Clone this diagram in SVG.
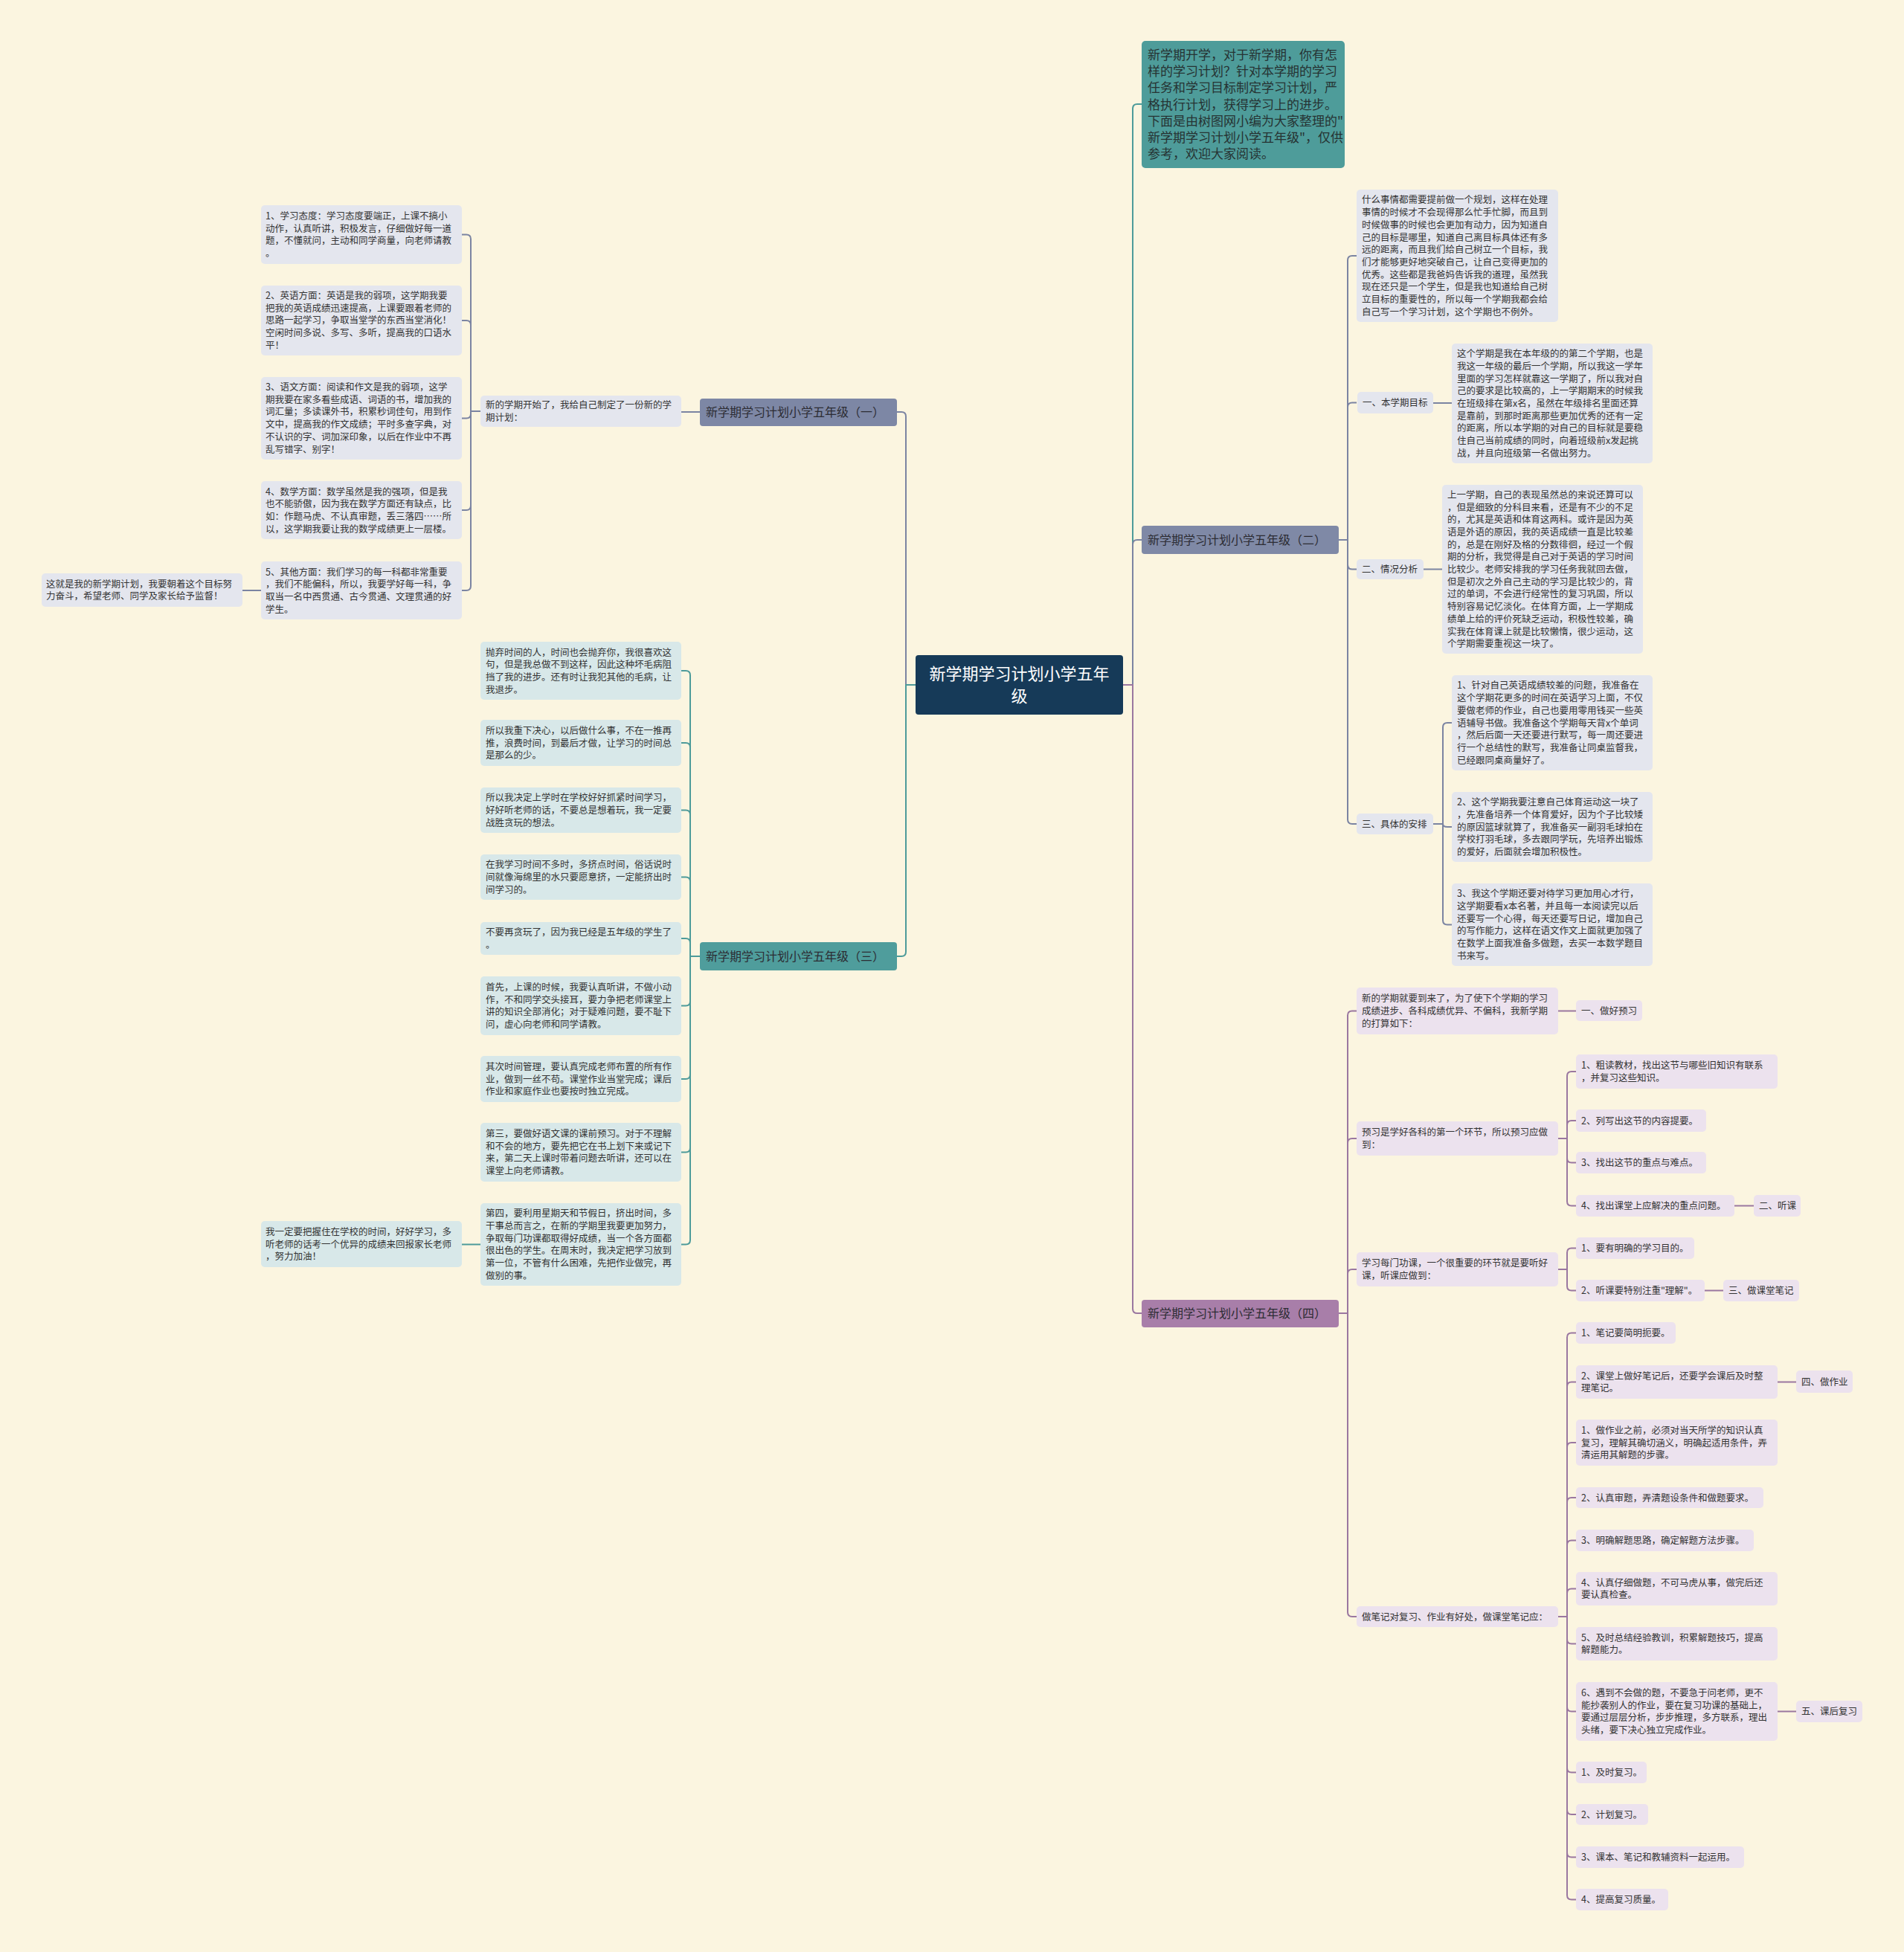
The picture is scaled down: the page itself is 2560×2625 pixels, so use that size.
<svg xmlns="http://www.w3.org/2000/svg" width="2560" height="2625" viewBox="0 0 2560 2625">
<style>
text{font-family:"Noto Sans CJK SC","Noto Sans",sans-serif;}
.s{font-size:12.5px;fill:#333;}
.b{font-size:16px;fill:#2c2c33;}
.n1{fill:#e4e6ee;}
.n3{fill:#d8e8e9;}
.n4{fill:#ece2ee;}
.c{fill:none;stroke-width:2;}
.c1{stroke:#7b84a2;}
.c3{stroke:#4d9b9a;}
.c4{stroke:#9a77a0;}
</style>
<rect width="2560" height="2625" fill="#fbf5e0"/>
<g id="connectors">
<path class="c c3" d="M1510 921H1523V146Q1523 140 1529 140H1535"/>
<path class="c c1" d="M1510 921H1523V732Q1523 726 1529 726H1535"/>
<path class="c c4" d="M1510 921H1523V1760Q1523 1766 1529 1766H1535"/>
<path class="c c1" d="M1231 921H1218V560Q1218 554 1212 554H1206"/>
<path class="c c3" d="M1231 921H1218V1280Q1218 1286 1212 1286H1206"/>
<path class="c c1" d="M941 554H916"/>
<path class="c c1" d="M646 553H633V321.5Q633 315.5 627 315.5H621"/>
<path class="c c1" d="M646 553H633V437Q633 431 627 431H621"/>
<path class="c c1" d="M646 553H633V556.5Q633 562.5 627 562.5H621"/>
<path class="c c1" d="M646 553H633V680Q633 686 627 686H621"/>
<path class="c c1" d="M646 553H633V788Q633 794 627 794H621"/>
<path class="c c1" d="M351 794H326"/>
<path class="c c3" d="M941 1286H928V908Q928 902 922 902H916"/>
<path class="c c3" d="M941 1286H928V1005Q928 999 922 999H916"/>
<path class="c c3" d="M941 1286H928V1095.5Q928 1089.5 922 1089.5H916"/>
<path class="c c3" d="M941 1286H928V1185.5Q928 1179.5 922 1179.5H916"/>
<path class="c c3" d="M941 1286H928V1268Q928 1262 922 1262H916"/>
<path class="c c3" d="M941 1286H928V1346.5Q928 1352.5 922 1352.5H916"/>
<path class="c c3" d="M941 1286H928V1445Q928 1451 922 1451H916"/>
<path class="c c3" d="M941 1286H928V1543.5Q928 1549.5 922 1549.5H916"/>
<path class="c c3" d="M941 1286H928V1667.5Q928 1673.5 922 1673.5H916"/>
<path class="c c3" d="M646 1673.5H621"/>
<path class="c c1" d="M1800 726H1812V350Q1812 344 1818 344H1824"/>
<path class="c c1" d="M1800 726H1812V547.5Q1812 541.5 1818 541.5H1824"/>
<path class="c c1" d="M1800 726H1812V759.5Q1812 765.5 1818 765.5H1824"/>
<path class="c c1" d="M1800 726H1812V1102Q1812 1108 1818 1108H1824"/>
<path class="c c1" d="M1927 542H1952"/>
<path class="c c1" d="M1914 765.5H1939"/>
<path class="c c1" d="M1927 1108H1940V978Q1940 972 1946 972H1952"/>
<path class="c c1" d="M1927 1108H1940Q1940 1112 1946 1112H1952"/>
<path class="c c1" d="M1927 1108H1940V1237.5Q1940 1243.5 1946 1243.5H1952"/>
<path class="c c4" d="M1800 1766H1812V1365.5Q1812 1359.5 1818 1359.5H1824"/>
<path class="c c4" d="M1800 1766H1812V1537Q1812 1531 1818 1531H1824"/>
<path class="c c4" d="M1800 1766H1812V1713Q1812 1707 1818 1707H1824"/>
<path class="c c4" d="M1800 1766H1812V2168Q1812 2174 1818 2174H1824"/>
<path class="c c4" d="M2095 1359.5H2119"/>
<path class="c c4" d="M2095 1531H2107V1447Q2107 1441 2113 1441H2119"/>
<path class="c c4" d="M2095 1531H2107V1513Q2107 1507 2113 1507H2119"/>
<path class="c c4" d="M2095 1531H2107V1557.5Q2107 1563.5 2113 1563.5H2119"/>
<path class="c c4" d="M2095 1531H2107V1615.5Q2107 1621.5 2113 1621.5H2119"/>
<path class="c c4" d="M2332 1621.5H2358"/>
<path class="c c4" d="M2095 1707H2107V1684.5Q2107 1678.5 2113 1678.5H2119"/>
<path class="c c4" d="M2095 1707H2107V1729.5Q2107 1735.5 2113 1735.5H2119"/>
<path class="c c4" d="M2292 1735.5H2317"/>
<path class="c c4" d="M2095 2174H2107V1798.5Q2107 1792.5 2113 1792.5H2119"/>
<path class="c c4" d="M2095 2174H2107V1864.5Q2107 1858.5 2113 1858.5H2119"/>
<path class="c c4" d="M2095 2174H2107V1946Q2107 1940 2113 1940H2119"/>
<path class="c c4" d="M2095 2174H2107V2020Q2107 2014 2113 2014H2119"/>
<path class="c c4" d="M2095 2174H2107V2077.5Q2107 2071.5 2113 2071.5H2119"/>
<path class="c c4" d="M2095 2174H2107V2142.5Q2107 2136.5 2113 2136.5H2119"/>
<path class="c c4" d="M2095 2174H2107V2204.5Q2107 2210.5 2113 2210.5H2119"/>
<path class="c c4" d="M2095 2174H2107V2295.5Q2107 2301.5 2113 2301.5H2119"/>
<path class="c c4" d="M2095 2174H2107V2377.5Q2107 2383.5 2113 2383.5H2119"/>
<path class="c c4" d="M2095 2174H2107V2434Q2107 2440 2113 2440H2119"/>
<path class="c c4" d="M2095 2174H2107V2491.5Q2107 2497.5 2113 2497.5H2119"/>
<path class="c c4" d="M2095 2174H2107V2548.5Q2107 2554.5 2113 2554.5H2119"/>
<path class="c c4" d="M2390 1858.5H2415"/>
<path class="c c4" d="M2390 2301.5H2415"/>
</g>
<g id="center">
<rect x="1231" y="881" width="279" height="80" rx="4" fill="#163a58"/>
<text x="1370.5" y="914" font-size="22" fill="#fff" text-anchor="middle">新学期学习计划小学五年</text>
<text x="1370.5" y="944" font-size="22" fill="#fff" text-anchor="middle">级</text>
</g>
<g id="intro">
<rect x="1535" y="55" width="273" height="171" rx="5" fill="#4e9c9a"/>
<text font-size="17" fill="#263333"><tspan x="1543" y="80">新学期开学，对于新学期，你有怎</tspan><tspan x="1543" dy="22.2">样的学习计划？针对本学期的学习</tspan><tspan x="1543" dy="22.2">任务和学习目标制定学习计划，严</tspan><tspan x="1543" dy="22.2">格执行计划，获得学习上的进步。</tspan><tspan x="1543" dy="22.2">下面是由树图网小编为大家整理的"</tspan><tspan x="1543" dy="22.2">新学期学习计划小学五年级"，仅供</tspan><tspan x="1543" dy="22.2">参考，欢迎大家阅读。</tspan></text>
</g>
<g id="branch1">
<rect x="941" y="536" width="265" height="37" rx="4" fill="#7d87a5"/>
<text class="b" x="949" y="560">新学期学习计划小学五年级（一）</text>
</g>
<g id="branch2">
<rect x="1535" y="707" width="265" height="38" rx="4" fill="#7f89a6"/>
<text class="b" x="1543" y="731.5">新学期学习计划小学五年级（二）</text>
</g>
<g id="branch3">
<rect x="941" y="1267" width="265" height="38" rx="4" fill="#4f9d9c"/>
<text class="b" x="949" y="1291.5">新学期学习计划小学五年级（三）</text>
</g>
<g id="branch4">
<rect x="1535" y="1748" width="265" height="37" rx="4" fill="#a87ea9"/>
<text class="b" x="1543" y="1772">新学期学习计划小学五年级（四）</text>
</g>
<g id="b1-p">
<rect class="n1" x="646" y="532" width="270" height="42" rx="5"/>
<text class="s"><tspan x="653" y="549">新的学期开始了，我给自己制定了一份新的学</tspan><tspan x="653" dy="16.7">期计划：</tspan></text>
</g>
<g id="b1-1">
<rect class="n1" x="351" y="276" width="270" height="79" rx="5"/>
<text class="s"><tspan x="357" y="295">1、学习态度：学习态度要端正，上课不搞小</tspan><tspan x="357" dy="16.7">动作，认真听讲，积极发言，仔细做好每一道</tspan><tspan x="357" dy="16.7">题，不懂就问，主动和同学商量，向老师请教</tspan><tspan x="357" dy="16.7">。</tspan></text>
</g>
<g id="b1-2">
<rect class="n1" x="351" y="384" width="270" height="94" rx="5"/>
<text class="s"><tspan x="357" y="402">2、英语方面：英语是我的弱项，这学期我要</tspan><tspan x="357" dy="16.7">把我的英语成绩迅速提高，上课要跟着老师的</tspan><tspan x="357" dy="16.7">思路一起学习，争取当堂学的东西当堂消化！</tspan><tspan x="357" dy="16.7">空闲时间多说、多写、多听，提高我的口语水</tspan><tspan x="357" dy="16.7">平！</tspan></text>
</g>
<g id="b1-3">
<rect class="n1" x="351" y="507" width="270" height="111" rx="5"/>
<text class="s"><tspan x="357" y="525">3、语文方面：阅读和作文是我的弱项，这学</tspan><tspan x="357" dy="16.7">期我要在家多看些成语、词语的书，增加我的</tspan><tspan x="357" dy="16.7">词汇量；多读课外书，积累秒词佳句，用到作</tspan><tspan x="357" dy="16.7">文中，提高我的作文成绩；平时多查字典，对</tspan><tspan x="357" dy="16.7">不认识的字、词加深印象，以后在作业中不再</tspan><tspan x="357" dy="16.7">乱写错字、别字！</tspan></text>
</g>
<g id="b1-4">
<rect class="n1" x="351" y="647" width="270" height="78" rx="5"/>
<text class="s"><tspan x="357" y="665.5">4、数学方面：数学虽然是我的强项，但是我</tspan><tspan x="357" dy="16.7">也不能骄傲，因为我在数学方面还有缺点，比</tspan><tspan x="357" dy="16.7">如：作题马虎、不认真审题，丢三落四……所</tspan><tspan x="357" dy="16.7">以，这学期我要让我的数学成绩更上一层楼。</tspan></text>
</g>
<g id="b1-5">
<rect class="n1" x="351" y="755" width="270" height="78" rx="5"/>
<text class="s"><tspan x="357" y="773.5">5、其他方面：我们学习的每一科都非常重要</tspan><tspan x="357" dy="16.7">，我们不能偏科，所以，我要学好每一科，争</tspan><tspan x="357" dy="16.7">取当一名中西贯通、古今贯通、文理贯通的好</tspan><tspan x="357" dy="16.7">学生。</tspan></text>
</g>
<g id="b1-note">
<rect class="n1" x="56" y="771" width="270" height="45" rx="5"/>
<text class="s"><tspan x="62" y="789.6">这就是我的新学期计划，我要朝着这个目标努</tspan><tspan x="62" dy="16.7">力奋斗，希望老师、同学及家长给予监督！</tspan></text>
</g>
<g id="b3-1">
<rect class="n3" x="646" y="863" width="270" height="78" rx="5"/>
<text class="s"><tspan x="653" y="881.5">抛弃时间的人，时间也会抛弃你，我很喜欢这</tspan><tspan x="653" dy="16.7">句，但是我总做不到这样，因此这种坏毛病阻</tspan><tspan x="653" dy="16.7">挡了我的进步。还有时让我犯其他的毛病，让</tspan><tspan x="653" dy="16.7">我退步。</tspan></text>
</g>
<g id="b3-2">
<rect class="n3" x="646" y="968" width="270" height="62" rx="5"/>
<text class="s"><tspan x="653" y="986.8">所以我重下决心，以后做什么事，不在一推再</tspan><tspan x="653" dy="16.7">推，浪费时间，到最后才做，让学习的时间总</tspan><tspan x="653" dy="16.7">是那么的少。</tspan></text>
</g>
<g id="b3-3">
<rect class="n3" x="646" y="1059" width="270" height="61" rx="5"/>
<text class="s"><tspan x="653" y="1077.3">所以我决定上学时在学校好好抓紧时间学习，</tspan><tspan x="653" dy="16.7">好好听老师的话，不要总是想着玩，我一定要</tspan><tspan x="653" dy="16.7">战胜贪玩的想法。</tspan></text>
</g>
<g id="b3-4">
<rect class="n3" x="646" y="1149" width="270" height="61" rx="5"/>
<text class="s"><tspan x="653" y="1167.3">在我学习时间不多时，多挤点时间，俗话说时</tspan><tspan x="653" dy="16.7">间就像海绵里的水只要愿意挤，一定能挤出时</tspan><tspan x="653" dy="16.7">间学习的。</tspan></text>
</g>
<g id="b3-5">
<rect class="n3" x="646" y="1240" width="270" height="44" rx="5"/>
<text class="s"><tspan x="653" y="1258.2">不要再贪玩了，因为我已经是五年级的学生了</tspan><tspan x="653" dy="16.7">。</tspan></text>
</g>
<g id="b3-6">
<rect class="n3" x="646" y="1313" width="270" height="79" rx="5"/>
<text class="s"><tspan x="653" y="1332">首先，上课的时候，我要认真听讲，不做小动</tspan><tspan x="653" dy="16.7">作，不和同学交头接耳，要力争把老师课堂上</tspan><tspan x="653" dy="16.7">讲的知识全部消化；对于疑难问题，要不耻下</tspan><tspan x="653" dy="16.7">问，虚心向老师和同学请教。</tspan></text>
</g>
<g id="b3-7">
<rect class="n3" x="646" y="1420" width="270" height="62" rx="5"/>
<text class="s"><tspan x="653" y="1438.8">其次时间管理，要认真完成老师布置的所有作</tspan><tspan x="653" dy="16.7">业，做到一丝不苟。课堂作业当堂完成；课后</tspan><tspan x="653" dy="16.7">作业和家庭作业也要按时独立完成。</tspan></text>
</g>
<g id="b3-8">
<rect class="n3" x="646" y="1510" width="270" height="79" rx="5"/>
<text class="s"><tspan x="653" y="1529">第三，要做好语文课的课前预习。对于不理解</tspan><tspan x="653" dy="16.7">和不会的地方，要先把它在书上划下来或记下</tspan><tspan x="653" dy="16.7">来，第二天上课时带着问题去听讲，还可以在</tspan><tspan x="653" dy="16.7">课堂上向老师请教。</tspan></text>
</g>
<g id="b3-9">
<rect class="n3" x="646" y="1618" width="270" height="111" rx="5"/>
<text class="s"><tspan x="653" y="1636.3">第四，要利用星期天和节假日，挤出时间，多</tspan><tspan x="653" dy="16.7">干事总而言之，在新的学期里我要更加努力，</tspan><tspan x="653" dy="16.7">争取每门功课都取得好成绩，当一个各方面都</tspan><tspan x="653" dy="16.7">很出色的学生。在周末时，我决定把学习放到</tspan><tspan x="653" dy="16.7">第一位，不管有什么困难，先把作业做完，再</tspan><tspan x="653" dy="16.7">做别的事。</tspan></text>
</g>
<g id="b3-note">
<rect class="n3" x="351" y="1642" width="270" height="62" rx="5"/>
<text class="s"><tspan x="357" y="1660.8">我一定要把握住在学校的时间，好好学习，多</tspan><tspan x="357" dy="16.7">听老师的话考一个优异的成绩来回报家长老师</tspan><tspan x="357" dy="16.7">，努力加油！</tspan></text>
</g>
<g id="b2-intro">
<rect class="n1" x="1824" y="255" width="271" height="178" rx="5"/>
<text class="s"><tspan x="1831" y="273.4">什么事情都需要提前做一个规划，这样在处理</tspan><tspan x="1831" dy="16.7">事情的时候才不会现得那么忙手忙脚，而且到</tspan><tspan x="1831" dy="16.7">时候做事的时候也会更加有动力，因为知道自</tspan><tspan x="1831" dy="16.7">己的目标是哪里，知道自己离目标具体还有多</tspan><tspan x="1831" dy="16.7">远的距离，而且我们给自己树立一个目标，我</tspan><tspan x="1831" dy="16.7">们才能够更好地突破自己，让自己变得更加的</tspan><tspan x="1831" dy="16.7">优秀。这些都是我爸妈告诉我的道理，虽然我</tspan><tspan x="1831" dy="16.7">现在还只是一个学生，但是我也知道给自己树</tspan><tspan x="1831" dy="16.7">立目标的重要性的，所以每一个学期我都会给</tspan><tspan x="1831" dy="16.7">自己写一个学习计划，这个学期也不例外。</tspan></text>
</g>
<g id="b2-goal">
<rect class="n1" x="1825" y="527" width="102" height="29" rx="5"/>
<text class="s" x="1832" y="546">一、本学期目标</text>
</g>
<g id="b2-goal-1">
<rect class="n1" x="1952" y="462" width="270" height="161" rx="5"/>
<text class="s"><tspan x="1959" y="480.2">这个学期是我在本年级的的第二个学期，也是</tspan><tspan x="1959" dy="16.7">我这一年级的最后一个学期，所以我这一学年</tspan><tspan x="1959" dy="16.7">里面的学习怎样就靠这一学期了，所以我对自</tspan><tspan x="1959" dy="16.7">己的要求是比较高的，上一学期期末的时候我</tspan><tspan x="1959" dy="16.7">在班级排在第x名，虽然在年级排名里面还算</tspan><tspan x="1959" dy="16.7">是靠前，到那时距离那些更加优秀的还有一定</tspan><tspan x="1959" dy="16.7">的距离，所以本学期的对自己的目标就是要稳</tspan><tspan x="1959" dy="16.7">住自己当前成绩的同时，向着班级前x发起挑</tspan><tspan x="1959" dy="16.7">战，并且向班级第一名做出努力。</tspan></text>
</g>
<g id="b2-analysis">
<rect class="n1" x="1824" y="752" width="90" height="27" rx="5"/>
<text class="s" x="1831" y="770">二、情况分析</text>
</g>
<g id="b2-analysis-1">
<rect class="n1" x="1939" y="652" width="270" height="227" rx="5"/>
<text class="s"><tspan x="1946" y="669.8">上一学期，自己的表现虽然总的来说还算可以</tspan><tspan x="1946" dy="16.7">，但是细致的分科目来看，还是有不少的不足</tspan><tspan x="1946" dy="16.7">的，尤其是英语和体育这两科。或许是因为英</tspan><tspan x="1946" dy="16.7">语是外语的原因，我的英语成绩一直是比较差</tspan><tspan x="1946" dy="16.7">的，总是在刚好及格的分数徘徊，经过一个假</tspan><tspan x="1946" dy="16.7">期的分析，我觉得是自己对于英语的学习时间</tspan><tspan x="1946" dy="16.7">比较少。老师安排我的学习任务我就回去做，</tspan><tspan x="1946" dy="16.7">但是初次之外自己主动的学习是比较少的，背</tspan><tspan x="1946" dy="16.7">过的单词，不会进行经常性的复习巩固，所以</tspan><tspan x="1946" dy="16.7">特别容易记忆淡化。在体育方面，上一学期成</tspan><tspan x="1946" dy="16.7">绩单上给的评价死缺乏运动，积极性较差，确</tspan><tspan x="1946" dy="16.7">实我在体育课上就是比较懒惰，很少运动，这</tspan><tspan x="1946" dy="16.7">个学期需要重视这一块了。</tspan></text>
</g>
<g id="b2-plan">
<rect class="n1" x="1824" y="1094" width="103" height="28" rx="5"/>
<text class="s" x="1831" y="1112.5">三、具体的安排</text>
</g>
<g id="b2-plan-1">
<rect class="n1" x="1952" y="908" width="270" height="128" rx="5"/>
<text class="s"><tspan x="1959" y="926.4">1、针对自己英语成绩较差的问题，我准备在</tspan><tspan x="1959" dy="16.7">这个学期花更多的时间在英语学习上面，不仅</tspan><tspan x="1959" dy="16.7">要做老师的作业，自己也要用零用钱买一些英</tspan><tspan x="1959" dy="16.7">语辅导书做。我准备这个学期每天背x个单词</tspan><tspan x="1959" dy="16.7">，然后后面一天还要进行默写，每一周还要进</tspan><tspan x="1959" dy="16.7">行一个总结性的默写，我准备让同桌监督我，</tspan><tspan x="1959" dy="16.7">已经跟同桌商量好了。</tspan></text>
</g>
<g id="b2-plan-2">
<rect class="n1" x="1952" y="1065" width="270" height="94" rx="5"/>
<text class="s"><tspan x="1959" y="1083.1">2、这个学期我要注意自己体育运动这一块了</tspan><tspan x="1959" dy="16.7">，先准备培养一个体育爱好，因为个子比较矮</tspan><tspan x="1959" dy="16.7">的原因篮球就算了，我准备买一副羽毛球拍在</tspan><tspan x="1959" dy="16.7">学校打羽毛球，多去跟同学玩，先培养出锻炼</tspan><tspan x="1959" dy="16.7">的爱好，后面就会增加积极性。</tspan></text>
</g>
<g id="b2-plan-3">
<rect class="n1" x="1952" y="1188" width="270" height="111" rx="5"/>
<text class="s"><tspan x="1959" y="1206.3">3、我这个学期还要对待学习更加用心才行，</tspan><tspan x="1959" dy="16.7">这学期要看x本名著，并且每一本阅读完以后</tspan><tspan x="1959" dy="16.7">还要写一个心得，每天还要写日记，增加自己</tspan><tspan x="1959" dy="16.7">的写作能力，这样在语文作文上面就更加强了</tspan><tspan x="1959" dy="16.7">在数学上面我准备多做题，去买一本数学题目</tspan><tspan x="1959" dy="16.7">书来写。</tspan></text>
</g>
<g id="b4-a">
<rect class="n4" x="1824" y="1328" width="271" height="63" rx="5"/>
<text class="s"><tspan x="1831" y="1347.3">新的学期就要到来了，为了使下个学期的学习</tspan><tspan x="1831" dy="16.7">成绩进步、各科成绩优异、不偏科，我新学期</tspan><tspan x="1831" dy="16.7">的打算如下：</tspan></text>
</g>
<g id="b4-a1">
<rect class="n4" x="2119" y="1345" width="89" height="28" rx="5"/>
<text class="s" x="2126" y="1363.5">一、做好预习</text>
</g>
<g id="b4-b">
<rect class="n4" x="1824" y="1508" width="271" height="46" rx="5"/>
<text class="s"><tspan x="1831" y="1527.2">预习是学好各科的第一个环节，所以预习应做</tspan><tspan x="1831" dy="16.7">到：</tspan></text>
</g>
<g id="b4-b1">
<rect class="n4" x="2119" y="1418" width="271" height="46" rx="5"/>
<text class="s"><tspan x="2126" y="1437.2">1、粗读教材，找出这节与哪些旧知识有联系</tspan><tspan x="2126" dy="16.7">，并复习这些知识。</tspan></text>
</g>
<g id="b4-b2">
<rect class="n4" x="2119" y="1492" width="175" height="30" rx="5"/>
<text class="s" x="2126" y="1511.5">2、列写出这节的内容提要。</text>
</g>
<g id="b4-b3">
<rect class="n4" x="2119" y="1549" width="175" height="29" rx="5"/>
<text class="s" x="2126" y="1568">3、找出这节的重点与难点。</text>
</g>
<g id="b4-b4">
<rect class="n4" x="2119" y="1607" width="213" height="29" rx="5"/>
<text class="s" x="2126" y="1626">4、找出课堂上应解决的重点问题。</text>
</g>
<g id="b4-b4a">
<rect class="n4" x="2358" y="1607" width="63" height="29" rx="5"/>
<text class="s" x="2365" y="1626">二、听课</text>
</g>
<g id="b4-c">
<rect class="n4" x="1824" y="1684" width="271" height="46" rx="5"/>
<text class="s"><tspan x="1831" y="1703.2">学习每门功课，一个很重要的环节就是要听好</tspan><tspan x="1831" dy="16.7">课，听课应做到：</tspan></text>
</g>
<g id="b4-c1">
<rect class="n4" x="2119" y="1664" width="159" height="29" rx="5"/>
<text class="s" x="2126" y="1683">1、要有明确的学习目的。</text>
</g>
<g id="b4-c2">
<rect class="n4" x="2119" y="1721" width="173" height="29" rx="5"/>
<text class="s" x="2126" y="1740">2、听课要特别注重"理解"。</text>
</g>
<g id="b4-c2a">
<rect class="n4" x="2317" y="1721" width="102" height="29" rx="5"/>
<text class="s" x="2324" y="1740">三、做课堂笔记</text>
</g>
<g id="b4-d">
<rect class="n4" x="1824" y="2160" width="271" height="28" rx="5"/>
<text class="s" x="1831" y="2178.5">做笔记对复习、作业有好处，做课堂笔记应：</text>
</g>
<g id="b4-d1">
<rect class="n4" x="2119" y="1778" width="134" height="29" rx="5"/>
<text class="s" x="2126" y="1797">1、笔记要简明扼要。</text>
</g>
<g id="b4-d2">
<rect class="n4" x="2119" y="1836" width="271" height="45" rx="5"/>
<text class="s"><tspan x="2126" y="1854.7">2、课堂上做好笔记后，还要学会课后及时整</tspan><tspan x="2126" dy="16.7">理笔记。</tspan></text>
</g>
<g id="b4-d2a">
<rect class="n4" x="2415" y="1843" width="76" height="30" rx="5"/>
<text class="s" x="2422" y="1862.5">四、做作业</text>
</g>
<g id="b4-d3">
<rect class="n4" x="2119" y="1909" width="271" height="62" rx="5"/>
<text class="s"><tspan x="2126" y="1927.8">1、做作业之前，必须对当天所学的知识认真</tspan><tspan x="2126" dy="16.7">复习，理解其确切涵义，明确起适用条件，弄</tspan><tspan x="2126" dy="16.7">清运用其解题的步骤。</tspan></text>
</g>
<g id="b4-d4">
<rect class="n4" x="2119" y="2000" width="252" height="28" rx="5"/>
<text class="s" x="2126" y="2018.5">2、认真审题，弄清题设条件和做题要求。</text>
</g>
<g id="b4-d5">
<rect class="n4" x="2119" y="2057" width="239" height="29" rx="5"/>
<text class="s" x="2126" y="2076">3、明确解题思路，确定解题方法步骤。</text>
</g>
<g id="b4-d6">
<rect class="n4" x="2119" y="2114" width="271" height="45" rx="5"/>
<text class="s"><tspan x="2126" y="2132.7">4、认真仔细做题，不可马虎从事，做完后还</tspan><tspan x="2126" dy="16.7">要认真检查。</tspan></text>
</g>
<g id="b4-d7">
<rect class="n4" x="2119" y="2188" width="271" height="45" rx="5"/>
<text class="s"><tspan x="2126" y="2206.7">5、及时总结经验教训，积累解题技巧，提高</tspan><tspan x="2126" dy="16.7">解题能力。</tspan></text>
</g>
<g id="b4-d8">
<rect class="n4" x="2119" y="2262" width="271" height="79" rx="5"/>
<text class="s"><tspan x="2126" y="2281">6、遇到不会做的题，不要急于问老师，更不</tspan><tspan x="2126" dy="16.7">能抄袭别人的作业，要在复习功课的基础上，</tspan><tspan x="2126" dy="16.7">要通过层层分析，步步推理，多方联系，理出</tspan><tspan x="2126" dy="16.7">头绪，要下决心独立完成作业。</tspan></text>
</g>
<g id="b4-d8a">
<rect class="n4" x="2415" y="2287" width="89" height="29" rx="5"/>
<text class="s" x="2422" y="2306">五、课后复习</text>
</g>
<g id="b4-d9">
<rect class="n4" x="2119" y="2369" width="95" height="29" rx="5"/>
<text class="s" x="2126" y="2388">1、及时复习。</text>
</g>
<g id="b4-d10">
<rect class="n4" x="2119" y="2426" width="97" height="28" rx="5"/>
<text class="s" x="2126" y="2444.5">2、计划复习。</text>
</g>
<g id="b4-d11">
<rect class="n4" x="2119" y="2483" width="226" height="29" rx="5"/>
<text class="s" x="2126" y="2502">3、课本、笔记和教辅资料一起运用。</text>
</g>
<g id="b4-d12">
<rect class="n4" x="2119" y="2540" width="124" height="29" rx="5"/>
<text class="s" x="2126" y="2559">4、提高复习质量。</text>
</g>
</svg>
